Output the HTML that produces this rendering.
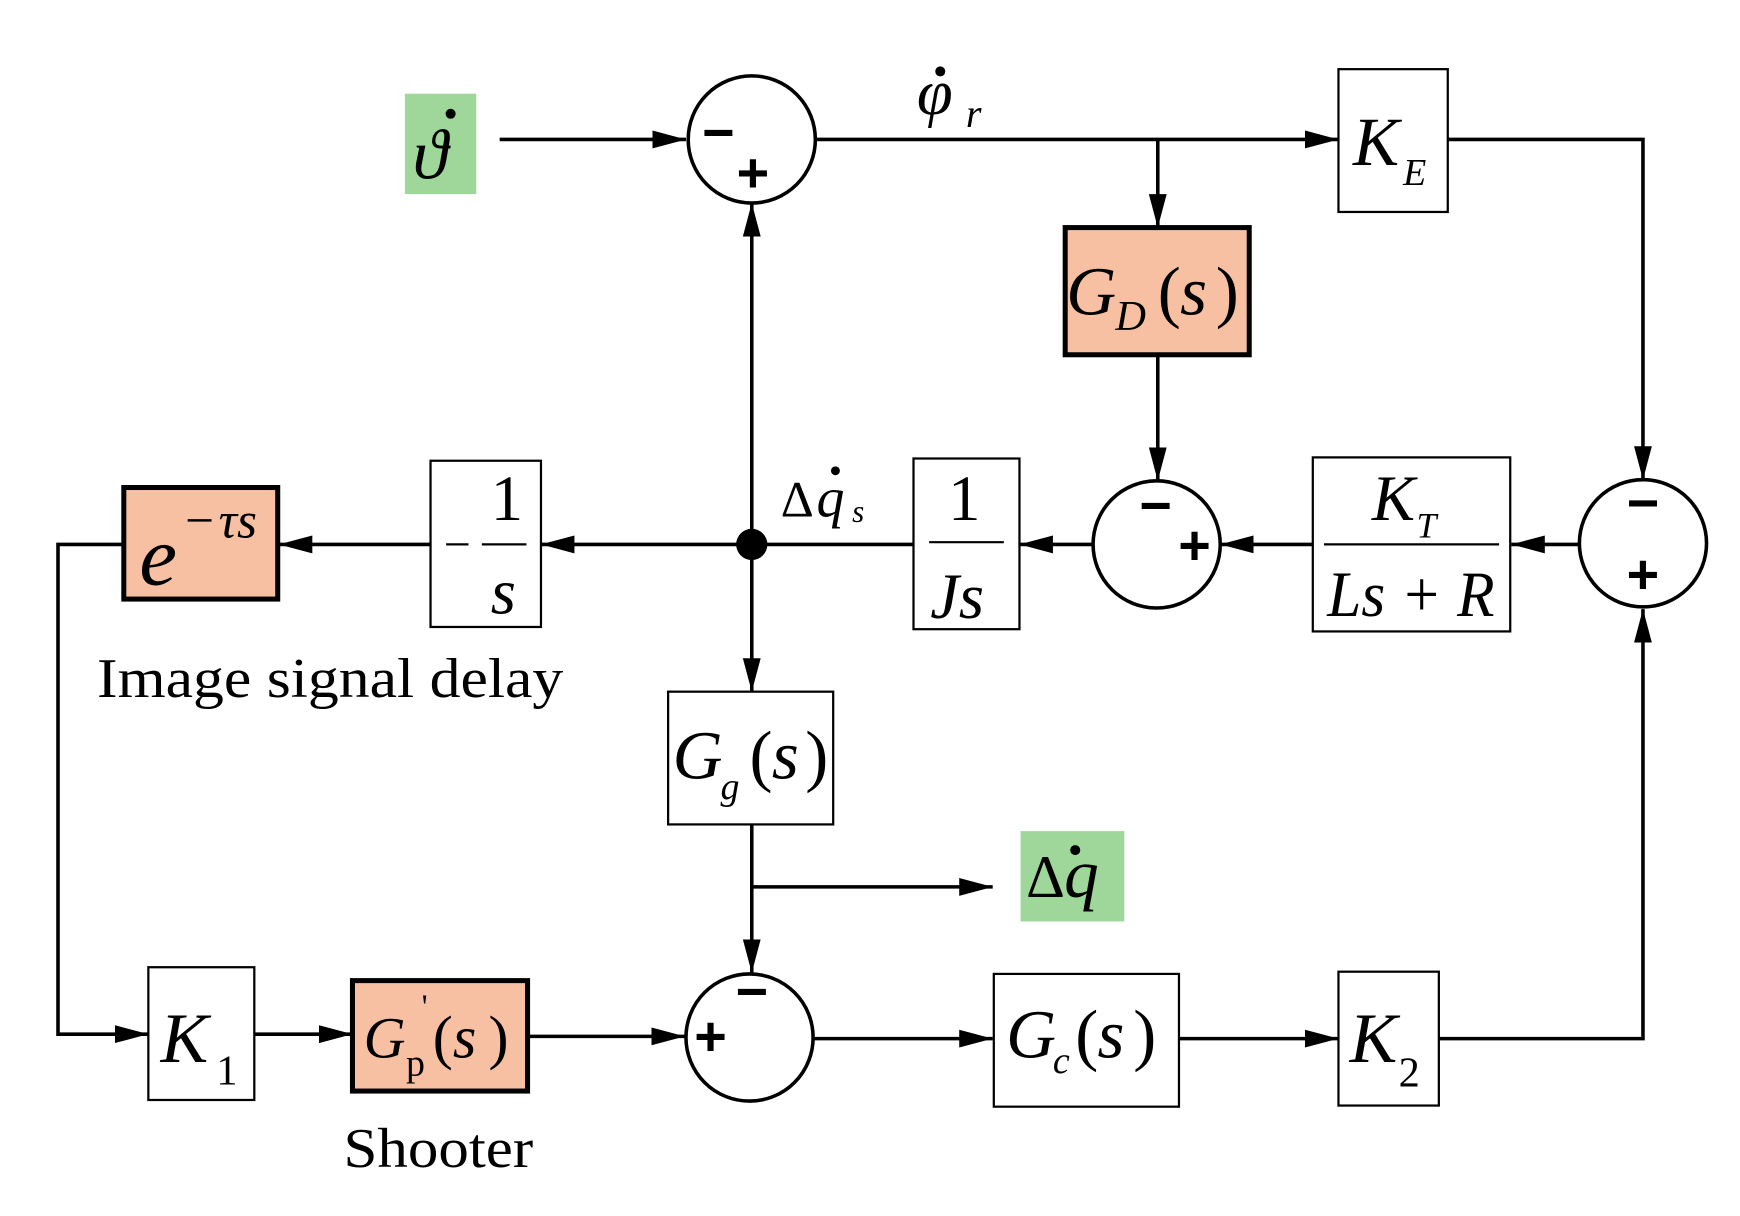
<!DOCTYPE html>
<html><head><meta charset="utf-8"><style>html,body{margin:0;padding:0;background:#fff}svg{display:block}</style></head>
<body>
<svg width="1740" height="1216" viewBox="0 0 1560 1090" preserveAspectRatio="none" xmlns="http://www.w3.org/2000/svg" font-family="Liberation Serif, serif">
<defs>
<marker id="b" viewBox="0 0 30 20" refX="30" refY="10" markerWidth="30" markerHeight="20" orient="auto" markerUnits="userSpaceOnUse"><path d="M0,2 L30,10 L0,18 z" fill="#000"/></marker></defs>
<g stroke="#000" stroke-width="3.2" fill="none">
<path d="M448,125 H615" marker-end="url(#b)"/>
<path d="M731,125 H1200" marker-end="url(#b)"/>
<path d="M1038,125 V204" marker-end="url(#b)"/>
<path d="M1038,318 V431" marker-end="url(#b)"/>
<path d="M1298,125 H1473 V430" marker-end="url(#b)"/>
<path d="M1416,488 H1355" marker-end="url(#b)"/>
<path d="M1177,488 H1094" marker-end="url(#b)"/>
<path d="M980,488 H914" marker-end="url(#b)"/>
<path d="M819,488 H485" marker-end="url(#b)"/>
<path d="M386,488 H250" marker-end="url(#b)"/>
<path d="M111,488 H52 V927 H133" marker-end="url(#b)"/>
<path d="M674,488 V182" marker-end="url(#b)"/>
<path d="M674,488 V620" marker-end="url(#b)"/>
<path d="M674,739 V872" marker-end="url(#b)"/>
<path d="M674,795 H890" marker-end="url(#b)"/>
<path d="M228,927 H316" marker-end="url(#b)"/>
<path d="M473,929 H614" marker-end="url(#b)"/>
<path d="M729,931 H890" marker-end="url(#b)"/>
<path d="M1057,931 H1200" marker-end="url(#b)"/>
<path d="M1290,931 H1473 V546" marker-end="url(#b)"/>
<circle cx="674" cy="125" r="57" fill="#fff"/>
<circle cx="1037" cy="488" r="57" fill="#fff"/>
<circle cx="1473" cy="487" r="57" fill="#fff"/>
<circle cx="672" cy="930" r="57" fill="#fff"/>
<rect x="1200" y="62" width="98" height="128" fill="#fff" stroke-width="2"/>
<rect x="955" y="204" width="165" height="114" fill="#f8c0a2" stroke-width="4.5"/>
<rect x="1177" y="410" width="177" height="156" fill="#fff" stroke-width="2"/>
<rect x="819" y="411" width="95" height="153" fill="#fff" stroke-width="2"/>
<rect x="386" y="413" width="99" height="149" fill="#fff" stroke-width="2"/>
<rect x="111" y="437" width="138" height="100" fill="#f8c0a2" stroke-width="4.5"/>
<rect x="599" y="620" width="148" height="119" fill="#fff" stroke-width="2"/>
<rect x="133" y="867" width="95" height="119" fill="#fff" stroke-width="2"/>
<rect x="316" y="879" width="157" height="99" fill="#f8c0a2" stroke-width="4.5"/>
<rect x="891" y="873" width="166" height="119" fill="#fff" stroke-width="2"/>
<rect x="1200" y="871" width="90" height="120" fill="#fff" stroke-width="2"/>
<path d="M1187,488 H1344 M833,486 H900 M400,488 H420 M432,488 H472" stroke-width="2"/>
</g>
<circle cx="674" cy="488" r="14" fill="#000"/>
<rect x="363" y="84" width="64" height="90" fill="#9fd69a"/>
<rect x="915" y="745" width="93" height="81" fill="#9fd69a"/>
<g fill="#000">
<circle cx="404" cy="102" r="4.5"/><circle cx="843" cy="64" r="4.5"/><circle cx="749" cy="422" r="4"/><circle cx="964" cy="762" r="4.5"/>
</g>
<g fill="#000" font-size="58" font-style="italic">
<text x="370" y="160" font-size="64">ϑ</text>
<text x="822" y="102">φ</text><text x="866" y="114" font-size="36">r</text>
<text x="1213" y="148" font-size="62">K</text><text x="1258" y="166" font-size="34">E</text>
<text x="956" y="282" font-size="62">G</text><text x="1000" y="296" font-size="38">D</text><text x="1038" y="282" font-style="normal" font-size="62">(</text><text x="1058" y="282" font-size="62">s</text><text x="1090" y="282" font-style="normal" font-size="62">)</text>
<text x="1230" y="466">K</text><text x="1270" y="482" font-size="32">T</text>
<text x="1190" y="552" textLength="150" lengthAdjust="spacingAndGlyphs">Ls + R</text>
<text x="850" y="466" font-style="normal">1</text><text x="834" y="554">Js</text>
<text x="440" y="466" font-style="normal">1</text><text x="440" y="550">s</text>
<text x="125" y="524" font-size="76">e</text><text x="166" y="482" font-size="46" font-style="normal">−</text><text x="196" y="482" font-size="46">τs</text>
<text x="700" y="463" font-style="normal" font-size="46">Δ</text><text x="732" y="463" font-size="50">q</text><text x="764" y="468" font-size="28">s</text>
<text x="603" y="698" font-size="62">G</text><text x="646" y="716" font-size="34">g</text><text x="672" y="698" font-style="normal" font-size="62">(</text><text x="692" y="698" font-size="62">s</text><text x="722" y="698" font-style="normal" font-size="62">)</text>
<text x="920" y="804" font-style="normal" font-size="54">Δ</text><text x="954" y="804" font-size="62">q</text>
<text x="144" y="952" font-size="64">K</text><text x="194" y="972" font-style="normal" font-size="38">1</text>
<text x="326" y="948" font-size="52">G</text><text x="364" y="964" font-style="normal" font-size="34">p</text><text x="378" y="912" font-style="normal" font-size="30">'</text><text x="388" y="948" font-style="normal" font-size="54">(</text><text x="406" y="948" font-size="54">s</text><text x="438" y="948" font-style="normal" font-size="54">)</text>
<text x="902" y="948" font-size="62">G</text><text x="944" y="962" font-size="34">c</text><text x="964" y="948" font-style="normal" font-size="62">(</text><text x="984" y="948" font-size="62">s</text><text x="1016" y="948" font-style="normal" font-size="62">)</text>
<text x="1210" y="952" font-size="64">K</text><text x="1254" y="974" font-style="normal" font-size="38">2</text>
</g>
<g font-family="Liberation Sans, sans-serif" font-weight="bold" font-size="50" fill="#000" text-anchor="middle">
<text x="644" y="136">−</text><text x="675" y="172">+</text>
<text x="1036" y="470">−</text><text x="1071" y="506">+</text>
<text x="1473" y="468">−</text><text x="1473" y="532">+</text>
<text x="637" y="946">+</text><text x="674" y="906">−</text>
</g>
<g font-size="50" fill="#000">
<text x="87" y="625" textLength="418" lengthAdjust="spacingAndGlyphs">Image signal delay</text>
<text x="308" y="1046" textLength="170" lengthAdjust="spacingAndGlyphs">Shooter</text>
</g>
</svg>
</body></html>
